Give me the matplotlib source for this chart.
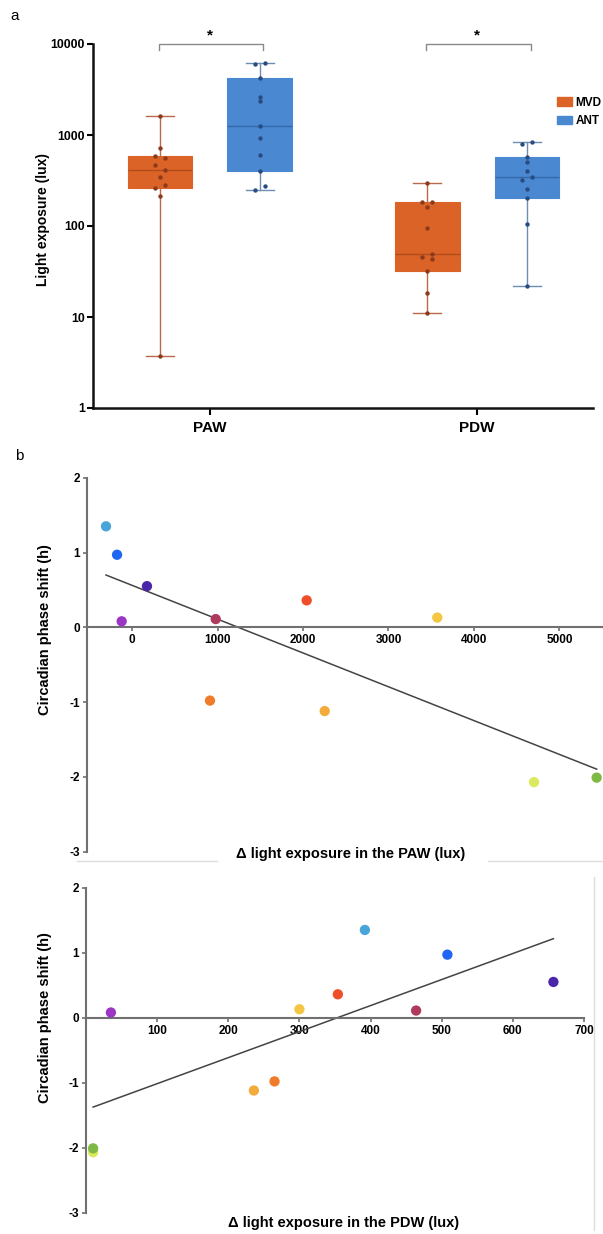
import matplotlib.pyplot as plt
import numpy as np
from matplotlib.patches import Patch
from matplotlib.lines import Line2D

plt.rcParams['font.family'] = ['Liberation Sans', 'DejaVu Sans']
plt.rcParams['axes.unicode_minus'] = False

# ---- panel a data: light exposure (lux), one value per subject ----
windows = ["PAW", "PDW"]
mvd_paw = [1620, 713, 582, 560, 463, 415, 342, 279, 259, 215, 3.7]
ant_paw = [6140, 6040, 4200, 2640, 2340, 1255, 933, 603, 405, 275, 250]
mvd_pdw = [294, 185, 185, 163, 94, 49.4, 45.8, 43.3, 32, 18.5, 11]
ant_pdw = [844, 802, 580, 500, 402, 348, 320, 255, 201, 106, 22]

# side-by-side spread of dots that sit close together (-1, 0, +1)
spread_mvd_paw = [0, 0, -1, 1, -1, 1, 0, 1, -1, 0, 0]
spread_ant_paw = [1, -1, 0, 0, 0, 0, 0, 0, 0, 1, -1]
spread_mvd_pdw = [0, -1, 1, 0, 0, 1, -1, 1, 0, 0, 0]
spread_ant_pdw = [1, -1, 0, 0, 0, 1, -1, 0, 0, 0, 0]

# ---- panel b data: one entry per subject ----
phase_shift = [1.35, 0.97, 0.55, 0.08, 0.11, -0.98, 0.36, 0.13, -1.12, -2.07, -2.01]
delta_paw = [-304, -175, 175, -121, 979, 912, 2043, 3571, 2254, 4702, 5435]
delta_pdw = [392, 508, 657, 35, 464, 265, 354, 300, 236, 10, 10]
subject_colors = ["#48A4D9", "#1F66F2", "#4A26AA", "#9A35C6", "#AE3A5E", "#F07B2A",
                  "#EE4F2A", "#F4C643", "#F3AB3B", "#DCE95E", "#7EB845"]

W, H = 603, 1234


def fx(px):
    return px / W


def fy(py):
    return 1 - py / H


fig = plt.figure(figsize=(W / 100, H / 100), dpi=100)

# ================= panel a =================
ax = fig.add_axes([fx(93), fy(408), fx(500), (408 - 44) / H])

mvd_face, mvd_line, mvd_med, mvd_dot = "#DB6327", "#B96A4C", "#B04C1C", "#8C3A1B"
ant_face, ant_line, ant_med, ant_dot = "#4A89D2", "#6F8CB3", "#3568A6", "#284C82"

groups = [
    (mvd_paw, spread_mvd_paw, 0 - 0.187, mvd_face, mvd_line, mvd_med, mvd_dot),
    (ant_paw, spread_ant_paw, 0 + 0.187, ant_face, ant_line, ant_med, ant_dot),
    (mvd_pdw, spread_mvd_pdw, 1 - 0.187, mvd_face, mvd_line, mvd_med, mvd_dot),
    (ant_pdw, spread_ant_pdw, 1 + 0.187, ant_face, ant_line, ant_med, ant_dot),
]

for vals, spread, pos, face, line, med_c, dot in groups:
    v = np.array(vals, dtype=float)
    q1, med, q3 = np.percentile(v, [25, 50, 75], method="weibull")
    stats = dict(med=med, q1=q1, q3=q3, whislo=v.min(), whishi=v.max(), fliers=[])
    ax.bxp([stats], positions=[pos], widths=0.243, patch_artist=True,
           showfliers=False, capwidths=0.105,
           boxprops=dict(facecolor=face, edgecolor=face, linewidth=0.8),
           medianprops=dict(color=med_c, linewidth=1.0),
           whiskerprops=dict(color=line, linewidth=1.0),
           capprops=dict(color=line, linewidth=1.0))
    ax.scatter(pos + np.array(spread) * 0.0175, v, s=10, color=dot, zorder=4,
               linewidths=0)

ax.set_yscale("log")
ax.set_ylim(1, 10000)
ax.set_xlim(-0.438, 1.434)
ax.set_yticks([1, 10, 100, 1000, 10000])
ax.set_yticklabels(["1", "10", "100", "1000", "10000"])
ax.yaxis.set_minor_locator(plt.NullLocator())
ax.set_xticks([0, 1])
ax.set_xticklabels(windows, fontsize=11, fontweight="bold")
for lab in ax.get_yticklabels():
    lab.set_fontweight("bold")
    lab.set_fontsize(8.8)
ax.tick_params(axis="y", length=4, width=1.5, pad=2)
ax.tick_params(axis="x", length=5, width=1.5, pad=4)
for side in ["top", "right"]:
    ax.spines[side].set_visible(False)
for side in ["left", "bottom"]:
    ax.spines[side].set_linewidth(1.8)
    ax.spines[side].set_color("#111111")

# significance brackets
for c in [0, 1]:
    xl, xr = c - 0.19, c + 0.2
    ax.plot([xl, xl, xr, xr], [8600, 10000, 10000, 8600], color="#8A8A8A",
            lw=1.0, clip_on=False)
    ax.text(c, 12300, "*", ha="center", va="center", fontsize=11,
            fontweight="bold")

ax.legend(handles=[Patch(facecolor=mvd_face, edgecolor=mvd_face),
                   Patch(facecolor=ant_face, edgecolor=ant_face)],
          labels=["MVD", "ANT"], loc="upper left",
          bbox_to_anchor=(fx(546), fy(86)), bbox_transform=fig.transFigure,
          frameon=False, handlelength=1.3, handleheight=0.75,
          handletextpad=0.3, labelspacing=0.55,
          prop=dict(weight="bold", size=8.5))

fig.text(fx(43), fy(220), "Light exposure (lux)", rotation=90, ha="center",
         va="center", fontsize=10, fontweight="bold")
fig.text(fx(10), fy(16), "a", fontsize=11, ha="left", va="center")
fig.text(fx(15), fy(456), "b", fontsize=11, ha="left", va="center")


# ================= panel b =================
def scatter_panel(rect, xs, xlim, xticks, xlabel, xlabel_xy, ylabel_y):
    bx = fig.add_axes(rect)
    bx.scatter(xs, phase_shift, s=55, c=subject_colors, linewidths=0, zorder=3)
    slope, icpt = np.polyfit(xs, phase_shift, 1)
    xx = np.array([min(xs), max(xs)])
    bx.plot(xx, slope * xx + icpt, color="#444444", lw=1.1, zorder=2)
    bx.set_xlim(*xlim)
    bx.set_ylim(-3, 2)
    bx.set_xticks(xticks)
    bx.set_yticks([-3, -2, -1, 0, 1, 2])
    for side in ["top", "right"]:
        bx.spines[side].set_visible(False)
    bx.spines["bottom"].set_position(("data", 0))
    for side in ["left", "bottom"]:
        bx.spines[side].set_color("#707070")
        bx.spines[side].set_linewidth(1.5)
    bx.tick_params(axis="both", colors="#707070", length=3, width=1.2,
                   labelcolor="black", labelsize=8.5, pad=2)
    for lab in bx.get_xticklabels() + bx.get_yticklabels():
        lab.set_fontweight("bold")
    fig.text(fx(xlabel_xy[0]), fy(xlabel_xy[1]), xlabel, ha="center",
             va="center", fontsize=10.5, fontweight="bold")
    fig.text(fx(45), fy(ylabel_y), "Circadian phase shift (h)", rotation=90,
             ha="center", va="center", fontsize=10.5, fontweight="bold")
    return bx


scatter_panel([fx(87.3), fy(851.7), fx(601.7 - 87.3), (851.7 - 477.7) / H],
              delta_paw, (-523, 5494), [0, 1000, 2000, 3000, 4000, 5000],
              "\u0394 light exposure in the PAW (lux)", (351, 854), 630)

scatter_panel([fx(86), fy(1212.7), fx(584 - 86), (1212.7 - 887.7) / H],
              delta_pdw, (0, 700), [100, 200, 300, 400, 500, 600, 700],
              "\u0394 light exposure in the PDW (lux)", (344, 1223), 1018)

# faint frame lines left over from the original figure
for x0, x1 in [(77, 217), (488, 603)]:
    fig.add_artist(Line2D([fx(x0), fx(x1)], [fy(861), fy(861)],
                          color="#DDDDDD", lw=1.0))
fig.add_artist(Line2D([fx(594), fx(594)], [fy(877), fy(1230)],
                      color="#DDDDDD", lw=1.0))

fig.savefig("out.png", dpi=100)
